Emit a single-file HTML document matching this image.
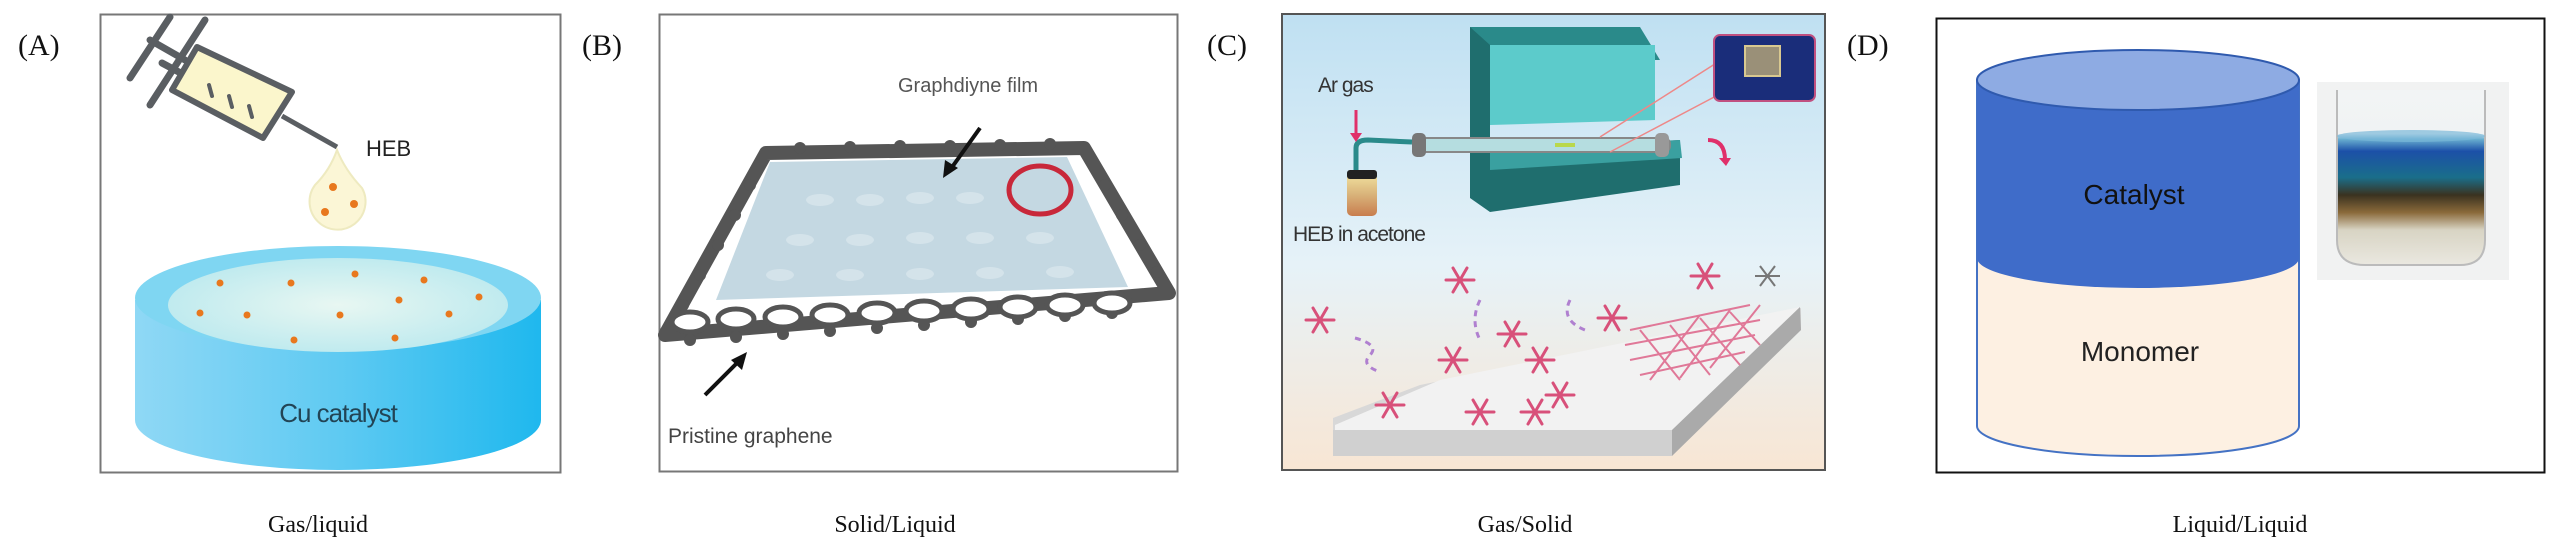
<!DOCTYPE html>
<html><head><meta charset="utf-8"><style>
html,body{margin:0;padding:0;background:#fff;}
svg{display:block;}
</style></head><body>
<svg width="2567" height="551" viewBox="0 0 2567 551" xmlns="http://www.w3.org/2000/svg">
<defs>
<linearGradient id="cyl" x1="0" x2="1" y1="0" y2="0">
<stop offset="0" stop-color="#8fd8f5"/><stop offset="0.5" stop-color="#5fcaf2"/><stop offset="1" stop-color="#1fb8ee"/></linearGradient>
<radialGradient id="topA" cx="0.5" cy="0.5" r="0.6"><stop offset="0" stop-color="#e8f7f2"/><stop offset="1" stop-color="#b8e8ee"/></radialGradient>
<linearGradient id="sky" x1="0" x2="0" y1="0" y2="1">
<stop offset="0" stop-color="#bfe0f2"/><stop offset="0.55" stop-color="#e6f2f8"/><stop offset="1" stop-color="#f8e6d4"/></linearGradient>
<linearGradient id="tube" x1="0" x2="0" y1="0" y2="1"><stop offset="0" stop-color="#f2e3a0"/><stop offset="0.5" stop-color="#d9b37a"/><stop offset="1" stop-color="#c87d4e"/></linearGradient>
<linearGradient id="vial" x1="0" x2="0" y1="0" y2="1">
<stop offset="0" stop-color="#f2f4f5"/><stop offset="0.25" stop-color="#f0f3f4"/><stop offset="0.28" stop-color="#6ab0d0"/><stop offset="0.35" stop-color="#1c50a8"/><stop offset="0.5" stop-color="#1a6e8a"/><stop offset="0.6" stop-color="#3a3220"/><stop offset="0.7" stop-color="#8a6a3a"/><stop offset="0.8" stop-color="#d8d4c4"/><stop offset="1" stop-color="#eae8e0"/></linearGradient>
</defs>

<g font-family="Liberation Serif, serif" font-size="30" fill="#111">
<text x="18" y="55">(A)</text>
<text x="582" y="55">(B)</text>
<text x="1207" y="55">(C)</text>
<text x="1847" y="55">(D)</text>
</g>
<g font-family="Liberation Serif, serif" font-size="24" fill="#111" text-anchor="middle">
<text x="318" y="532">Gas/liquid</text>
<text x="895" y="532">Solid/Liquid</text>
<text x="1525" y="532">Gas/Solid</text>
<text x="2240" y="532">Liquid/Liquid</text>
</g>

<!-- Panel A -->
<rect x="100.5" y="14.5" width="460" height="458" fill="#fff" stroke="#777" stroke-width="2"/>
<g stroke="#5a5e62" stroke-width="7" stroke-linecap="round" fill="none">
<line x1="130" y1="78" x2="170" y2="17"/>
<line x1="150" y1="105" x2="205" y2="20"/>
<line x1="150" y1="40" x2="185" y2="60"/>
<line x1="162" y1="63" x2="190" y2="78"/>
</g>
<polygon points="197,47 292,92 263,138 172,90" fill="#fbf6cc" stroke="#5a5e62" stroke-width="6" stroke-linejoin="round"/>
<g stroke="#5a5e62" stroke-width="4" stroke-linecap="round">
<line x1="209" y1="85" x2="212" y2="96"/><line x1="229" y1="96" x2="232" y2="107"/><line x1="249" y1="106" x2="252" y2="117"/></g>
<line x1="282" y1="116" x2="337" y2="147" stroke="#5a5e62" stroke-width="5"/>
<path d="M337,150 Q330,170 315,185 A28,28 0 1 0 362,188 Q345,170 337,150 Z" fill="#fbf6d6" stroke="#eeeac0" stroke-width="2"/>
<g fill="#e8781e"><circle cx="333" cy="187" r="4"/><circle cx="354" cy="204" r="4"/><circle cx="325" cy="212" r="4"/></g>
<text x="366" y="156" font-family="Liberation Sans, sans-serif" font-size="22" fill="#222">HEB</text>
<path d="M135,300 L135,420 A203,50 0 0 0 541,420 L541,300 Z" fill="url(#cyl)"/>
<ellipse cx="338" cy="298" rx="203" ry="52" fill="#7fd6f2"/>
<ellipse cx="338" cy="305" rx="170" ry="47" fill="url(#topA)"/>
<g fill="#e8781e">
<circle cx="220" cy="283" r="3.5"/><circle cx="291" cy="283" r="3.5"/><circle cx="355" cy="274" r="3.5"/><circle cx="424" cy="280" r="3.5"/><circle cx="399" cy="300" r="3.5"/><circle cx="479" cy="297" r="3.5"/><circle cx="200" cy="313" r="3.5"/><circle cx="247" cy="315" r="3.5"/><circle cx="340" cy="315" r="3.5"/><circle cx="449" cy="314" r="3.5"/><circle cx="294" cy="340" r="3.5"/><circle cx="395" cy="338" r="3.5"/></g>
<text x="338" y="422" text-anchor="middle" font-family="Liberation Sans, sans-serif" font-size="26" fill="#224455" letter-spacing="-1">Cu catalyst</text>

<!-- Panel B -->
<rect x="659.5" y="14.5" width="518" height="457" fill="#fff" stroke="#777" stroke-width="2"/>
<polygon points="766,153 1084,148 1169,293 665,335" fill="#fff" stroke="#555" stroke-width="14" stroke-linejoin="round"/>
<g fill="#555">
<circle cx="800" cy="148" r="6"/><circle cx="850" cy="147" r="6"/><circle cx="900" cy="146" r="6"/><circle cx="950" cy="146" r="6"/><circle cx="1000" cy="145" r="6"/><circle cx="1050" cy="144" r="6"/>
<circle cx="750" cy="185" r="6"/><circle cx="735" cy="215" r="6"/><circle cx="718" cy="245" r="6"/><circle cx="700" cy="275" r="6"/><circle cx="683" cy="305" r="6"/>
<circle cx="1105" cy="185" r="6"/><circle cx="1122" cy="215" r="6"/><circle cx="1140" cy="245" r="6"/><circle cx="1157" cy="272" r="6"/>
<circle cx="690" cy="340" r="6"/><circle cx="736" cy="337" r="6"/><circle cx="783" cy="334" r="6"/><circle cx="830" cy="331" r="6"/><circle cx="877" cy="328" r="6"/><circle cx="924" cy="325" r="6"/><circle cx="971" cy="322" r="6"/><circle cx="1018" cy="319" r="6"/><circle cx="1065" cy="316" r="6"/><circle cx="1112" cy="313" r="6"/>
</g>
<polygon points="770,162 1067,157 1128,287 716,300" fill="#c4d8e2"/>
<g fill="#fff" stroke="#555" stroke-width="5">
<ellipse cx="690" cy="322" rx="18" ry="10"/><ellipse cx="736" cy="319" rx="18" ry="10"/><ellipse cx="783" cy="317" rx="18" ry="10"/><ellipse cx="830" cy="315" rx="18" ry="10"/><ellipse cx="877" cy="313" rx="18" ry="10"/><ellipse cx="924" cy="311" rx="18" ry="10"/><ellipse cx="971" cy="309" rx="18" ry="10"/><ellipse cx="1018" cy="307" rx="18" ry="10"/><ellipse cx="1065" cy="305" rx="18" ry="10"/><ellipse cx="1112" cy="303" rx="18" ry="10"/>
</g>
<g fill="#d4e3ea">
<ellipse cx="820" cy="200" rx="14" ry="6"/><ellipse cx="870" cy="200" rx="14" ry="6"/><ellipse cx="920" cy="198" rx="14" ry="6"/><ellipse cx="970" cy="198" rx="14" ry="6"/><ellipse cx="800" cy="240" rx="14" ry="6"/><ellipse cx="860" cy="240" rx="14" ry="6"/><ellipse cx="920" cy="238" rx="14" ry="6"/><ellipse cx="980" cy="238" rx="14" ry="6"/><ellipse cx="1040" cy="238" rx="14" ry="6"/><ellipse cx="780" cy="275" rx="14" ry="6"/><ellipse cx="850" cy="275" rx="14" ry="6"/><ellipse cx="920" cy="274" rx="14" ry="6"/><ellipse cx="990" cy="273" rx="14" ry="6"/><ellipse cx="1060" cy="272" rx="14" ry="6"/></g>
<ellipse cx="1040" cy="190" rx="31" ry="24" fill="none" stroke="#c8283a" stroke-width="5"/>
<text x="898" y="92" font-family="Liberation Sans, sans-serif" font-size="20" fill="#555">Graphdiyne film</text>
<line x1="980" y1="128" x2="950" y2="170" stroke="#111" stroke-width="4"/>
<polygon points="943,178 945,160 958,168" fill="#111"/>
<line x1="705" y1="395" x2="740" y2="360" stroke="#111" stroke-width="4"/>
<polygon points="747,352 742,370 731,360" fill="#111"/>
<text x="668" y="443" font-family="Liberation Sans, sans-serif" font-size="21" fill="#444">Pristine graphene</text>

<!-- Panel C -->
<rect x="1282" y="14" width="543" height="456" fill="url(#sky)" stroke="#555" stroke-width="2"/>
<polygon points="1470,27 1640,27 1660,60 1490,60" fill="#2a8a8a"/>
<polygon points="1490,45 1655,45 1655,120 1490,125" fill="#5ccbcb"/>
<polygon points="1470,27 1490,45 1490,200 1470,190" fill="#1f6e6e"/>
<polygon points="1470,150 1680,140 1680,185 1490,212 1470,198" fill="#1f6e6e"/>
<polygon points="1490,152 1680,140 1682,158 1490,170" fill="#3aa0a0"/>
<rect x="1420" y="138" width="250" height="14" rx="6" fill="#b5dde0" stroke="#888" stroke-width="2"/>
<rect x="1412" y="133" width="14" height="24" rx="5" fill="#777"/>
<rect x="1655" y="133" width="14" height="24" rx="5" fill="#999"/>
<rect x="1555" y="143" width="20" height="4" fill="#b9d84a"/>
<line x1="1600" y1="137" x2="1718" y2="62" stroke="#e88" stroke-width="1.5"/>
<line x1="1610" y1="152" x2="1718" y2="95" stroke="#e88" stroke-width="1.5"/>
<rect x="1714" y="35" width="101" height="66" rx="6" fill="#1a2d7a" stroke="#c05080" stroke-width="2"/>
<rect x="1745" y="46" width="35" height="30" fill="#9a9078" stroke="#d8c890" stroke-width="2"/>
<path d="M1708,140 Q1725,140 1725,160" fill="none" stroke="#e0306a" stroke-width="4"/>
<polygon points="1719,158 1731,158 1726,166" fill="#e0306a"/>
<path d="M1356,173 L1356,148 Q1356,140 1368,140 L1412,142" fill="none" stroke="#2a8a8a" stroke-width="5"/>
<line x1="1356" y1="110" x2="1356" y2="135" stroke="#e0306a" stroke-width="3"/>
<polygon points="1350,133 1362,133 1356,142" fill="#e0306a"/>
<rect x="1347" y="173" width="30" height="43" rx="5" fill="url(#tube)"/>
<rect x="1347" y="170" width="30" height="9" rx="3" fill="#222"/>
<text x="1318" y="92" font-family="Liberation Sans, sans-serif" font-size="21" fill="#333" letter-spacing="-1">Ar gas</text>
<text x="1293" y="241" font-family="Liberation Sans, sans-serif" font-size="21" fill="#333" letter-spacing="-1">HEB in acetone</text>
<polygon points="1333,418 1420,385 1801,308 1801,330 1672,452 1333,452" fill="#d8d8d8"/>
<polygon points="1335,425 1440,380 1800,307 1672,430 1335,430" fill="#f2f2f2"/>
<polygon points="1672,430 1800,307 1801,330 1672,456" fill="#aaa"/>
<rect x="1333" y="430" width="339" height="26" fill="#d0d0d0"/>
<g stroke="#d8507a" stroke-width="3" stroke-linecap="round">
<g transform="translate(1460,280)"><line x1="-14" y1="0" x2="14" y2="0"/><line x1="-7" y1="-12" x2="7" y2="12"/><line x1="7" y1="-12" x2="-7" y2="12"/></g>
<g transform="translate(1320,320)"><line x1="-14" y1="0" x2="14" y2="0"/><line x1="-7" y1="-12" x2="7" y2="12"/><line x1="7" y1="-12" x2="-7" y2="12"/></g>
<g transform="translate(1453,360)"><line x1="-14" y1="0" x2="14" y2="0"/><line x1="-7" y1="-12" x2="7" y2="12"/><line x1="7" y1="-12" x2="-7" y2="12"/></g>
<g transform="translate(1390,405)"><line x1="-14" y1="0" x2="14" y2="0"/><line x1="-7" y1="-12" x2="7" y2="12"/><line x1="7" y1="-12" x2="-7" y2="12"/></g>
<g transform="translate(1480,412)"><line x1="-14" y1="0" x2="14" y2="0"/><line x1="-7" y1="-12" x2="7" y2="12"/><line x1="7" y1="-12" x2="-7" y2="12"/></g>
<g transform="translate(1535,412)"><line x1="-14" y1="0" x2="14" y2="0"/><line x1="-7" y1="-12" x2="7" y2="12"/><line x1="7" y1="-12" x2="-7" y2="12"/></g>
<g transform="translate(1512,334)"><line x1="-14" y1="0" x2="14" y2="0"/><line x1="-7" y1="-12" x2="7" y2="12"/><line x1="7" y1="-12" x2="-7" y2="12"/></g>
<g transform="translate(1540,360)"><line x1="-14" y1="0" x2="14" y2="0"/><line x1="-7" y1="-12" x2="7" y2="12"/><line x1="7" y1="-12" x2="-7" y2="12"/></g>
<g transform="translate(1560,395)"><line x1="-14" y1="0" x2="14" y2="0"/><line x1="-7" y1="-12" x2="7" y2="12"/><line x1="7" y1="-12" x2="-7" y2="12"/></g>
<g transform="translate(1612,318)"><line x1="-14" y1="0" x2="14" y2="0"/><line x1="-7" y1="-12" x2="7" y2="12"/><line x1="7" y1="-12" x2="-7" y2="12"/></g>
<g transform="translate(1705,276)"><line x1="-14" y1="0" x2="14" y2="0"/><line x1="-7" y1="-12" x2="7" y2="12"/><line x1="7" y1="-12" x2="-7" y2="12"/></g>
</g>
<g stroke="#e07898" stroke-width="2" fill="none">
<path d="M1630,330 L1750,305 M1625,345 L1760,320 M1630,360 L1755,335 M1640,375 L1745,352 M1640,330 L1680,380 M1670,325 L1710,375 M1700,318 L1740,365 M1730,312 L1760,345 M1650,380 L1700,315 M1680,378 L1730,310 M1710,368 L1760,305"/>
</g>
<g stroke="#777" stroke-width="2"><line x1="1755" y1="276" x2="1780" y2="276"/><line x1="1760" y1="266" x2="1775" y2="286"/><line x1="1775" y1="266" x2="1760" y2="286"/></g>
<g stroke="#b080d0" stroke-width="3" fill="none" stroke-dasharray="6,5"><path d="M1355,338 Q1380,345 1370,355 Q1360,365 1380,372"/><path d="M1480,300 Q1470,320 1480,340"/><path d="M1570,300 Q1560,320 1585,330"/></g>

<!-- Panel D -->
<rect x="1936.5" y="18.5" width="608" height="454" fill="#fff" stroke="#111" stroke-width="2"/>
<path d="M1977,80 L1977,426 A161,30 0 0 0 2299,426 L2299,80 Z" fill="#fdf0e2" stroke="#4472c4" stroke-width="2"/>
<path d="M1977,80 L1977,258 A161,30 0 0 0 2299,258 L2299,80 Z" fill="#3f6cc9"/>
<ellipse cx="2138" cy="80" rx="161" ry="30" fill="#8eabe3" stroke="#2f5aae" stroke-width="2"/>
<text x="2134" y="204" text-anchor="middle" font-family="Liberation Sans, sans-serif" font-size="28" fill="#111">Catalyst</text>
<text x="2140" y="361" text-anchor="middle" font-family="Liberation Sans, sans-serif" font-size="28" fill="#222">Monomer</text>
<rect x="2317" y="82" width="192" height="198" fill="#f1f2f2"/>
<path d="M2337,90 L2337,240 Q2337,265 2365,265 L2460,265 Q2485,265 2485,240 L2485,90" fill="url(#vial)" stroke="#bbb" stroke-width="2"/>
<ellipse cx="2411" cy="136" rx="74" ry="6" fill="#7ab8d8" opacity="0.7"/>
</svg>
</body></html>
